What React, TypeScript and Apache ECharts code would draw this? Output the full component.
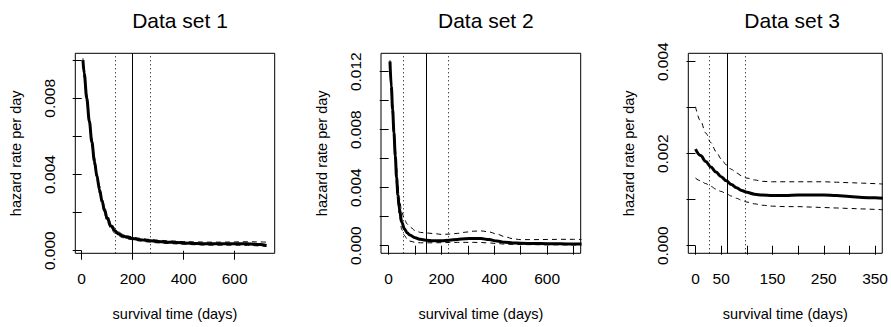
import React, { useEffect, useRef } from "react";
import * as echarts from "echarts";

const panelTitles = ["Data set 1", "Data set 2", "Data set 3"];
const xAxisTitle = "survival time (days)";
const yAxisTitle = "hazard rate per day";

// Data set 1
const days1 = [5, 10, 20, 30, 40, 50, 60, 70, 80, 90, 100, 115, 130, 145, 160, 180, 200, 230, 260, 300, 350, 400, 450, 500, 550, 600, 650, 700, 725];
const hazard1 = [0.01, 0.0093, 0.008, 0.0068, 0.0057, 0.0047, 0.0039, 0.0032, 0.0026, 0.0021, 0.0017, 0.0013, 0.00105, 0.00088, 0.00078, 0.0007, 0.00064, 0.00058, 0.00053, 0.00048, 0.00044, 0.00041, 0.00038, 0.00036, 0.00036, 0.00037, 0.00037, 0.00032, 0.00027];
const upper1 = [0.0101, 0.0095, 0.0082, 0.007, 0.0059, 0.0049, 0.0041, 0.0034, 0.0028, 0.0023, 0.0019, 0.00145, 0.00118, 0.00098, 0.00087, 0.00078, 0.00071, 0.00065, 0.0006, 0.00055, 0.00051, 0.00048, 0.00046, 0.00045, 0.00045, 0.00046, 0.00047, 0.00046, 0.00045];
const lower1 = [0.0098, 0.0091, 0.0078, 0.0066, 0.0055, 0.0045, 0.0037, 0.003, 0.0024, 0.0019, 0.0015, 0.00115, 0.00092, 0.00078, 0.00069, 0.00062, 0.00057, 0.00051, 0.00046, 0.00041, 0.00037, 0.00034, 0.00031, 0.00029, 0.00029, 0.00029, 0.00028, 0.00025, 0.00022];
const medianLine1 = [200];
const quartileLines1 = [131, 268];
const xTicks1 = [0, 200, 400, 600];
const xLabels1 = [0, 200, 400, 600];
const yTicks1 = [0, 0.002, 0.004, 0.006, 0.008, 0.01];
const yLabels1 = [0, 0.004, 0.008];

// Data set 2
const days2 = [5, 10, 15, 20, 25, 30, 35, 40, 50, 60, 70, 80, 100, 120, 140, 170, 200, 230, 260, 290, 320, 350, 380, 410, 440, 470, 500, 550, 600, 650, 700, 730];
const hazard2 = [0.0127, 0.011, 0.0094, 0.0078, 0.0062, 0.0047, 0.0035, 0.0026, 0.0016, 0.00115, 0.0009, 0.00074, 0.00055, 0.00044, 0.00038, 0.00035, 0.00035, 0.00038, 0.00043, 0.00048, 0.0005, 0.00049, 0.00042, 0.00032, 0.00024, 0.00019, 0.00017, 0.00015, 0.00014, 0.00013, 0.00012, 0.00011];
const upper2 = [0.0128, 0.0113, 0.0098, 0.0083, 0.0068, 0.0054, 0.0042, 0.0033, 0.0023, 0.0018, 0.0015, 0.0013, 0.00105, 0.00092, 0.00088, 0.00084, 0.00078, 0.0008, 0.00085, 0.00093, 0.001, 0.00102, 0.00095, 0.0008, 0.00062, 0.00048, 0.00042, 0.00042, 0.00043, 0.00044, 0.00044, 0.00043];
const lower2 = [0.0125, 0.0106, 0.0089, 0.0073, 0.0057, 0.0042, 0.003, 0.0021, 0.0011, 0.0007, 0.00045, 0.00032, 0.00023, 0.0002, 0.0002, 0.0002, 0.00021, 0.00022, 0.00023, 0.00023, 0.00023, 0.00022, 0.00019, 0.00015, 0.00011, 0.00009, 0.00008, 0.00007, 0.00006, 0.00006, 0.00005, 0.00005];
const medianLine2 = [141];
const quartileLines2 = [57, 227];
const xTicks2 = [0, 100, 200, 300, 400, 500, 600, 700];
const xLabels2 = [0, 200, 400, 600];
const yTicks2 = [0, 0.002, 0.004, 0.006, 0.008, 0.01, 0.012];
const yLabels2 = [0, 0.004, 0.008, 0.012];

// Data set 3
const days3 = [0, 10, 20, 30, 40, 50, 60, 70, 80, 90, 100, 115, 130, 150, 175, 200, 225, 250, 275, 300, 325, 350, 365];
const hazard3 = [0.0021, 0.00196, 0.00183, 0.00171, 0.0016, 0.0015, 0.00141, 0.00133, 0.00126, 0.0012, 0.00116, 0.00112, 0.0011, 0.00109, 0.00109, 0.0011, 0.0011, 0.0011, 0.00109, 0.00107, 0.00105, 0.00104, 0.00103];
const upper3 = [0.00302, 0.00271, 0.00245, 0.00224, 0.00205, 0.00189, 0.00176, 0.00166, 0.00158, 0.00152, 0.00147, 0.00143, 0.0014, 0.00139, 0.00139, 0.00139, 0.00139, 0.00139, 0.00138, 0.00137, 0.00136, 0.00135, 0.00134];
const lower3 = [0.00147, 0.00141, 0.00135, 0.00129, 0.00123, 0.00118, 0.00113, 0.00108, 0.00103, 0.00099, 0.00095, 0.00091, 0.00088, 0.00086, 0.00085, 0.00085, 0.00084, 0.00083, 0.00082, 0.00081, 0.0008, 0.00079, 0.00078];
const medianLine3 = [61.6];
const quartileLines3 = [26.7, 96.5];
const xTicks3 = [0, 50, 100, 150, 200, 250, 300, 350];
const xLabels3 = [0, 50, 150, 250, 350];
const yTicks3 = [0, 0.001, 0.002, 0.003, 0.004];
const yLabels3 = [0, 0.002, 0.004];

const FONT = "'Liberation Sans', Arial, Helvetica, sans-serif";

const panels = [
  {
    title: panelTitles[0], days: days1, hazard: hazard1, upper: upper1, lower: lower1,
    median: medianLine1, quartiles: quartileLines1,
    xTicks: xTicks1, xLabels: xLabels1, yTicks: yTicks1, yLabels: yLabels1,
    left: 75.3, width: 199.4, xMin: -25, xMax: 757, yMin: -0.000136, yMax: 0.010362,
  },
  {
    title: panelTitles[1], days: days2, hazard: hazard2, upper: upper2, lower: lower2,
    median: medianLine2, quartiles: quartileLines2,
    xTicks: xTicks2, xLabels: xLabels2, yTicks: yTicks2, yLabels: yLabels2,
    left: 381, width: 199.7, xMin: -29, xMax: 727, yMin: -0.000524, yMax: 0.013269,
  },
  {
    title: panelTitles[2], days: days3, hazard: hazard3, upper: upper3, lower: lower3,
    median: medianLine3, quartiles: quartileLines3,
    xTicks: xTicks3, xLabels: xLabels3, yTicks: yTicks3, yLabels: yLabels3,
    left: 688.3, width: 197.7, xMin: -14, xMax: 364, yMin: -0.000165, yMax: 0.004183,
  },
];

const TOP = 53.3;
const HEIGHT = 200;

function buildOption() {
  const grid: any[] = [];
  const xAxis: any[] = [];
  const yAxis: any[] = [];
  const series: any[] = [];
  const title: any[] = [];

  panels.forEach((p, i) => {
    grid.push({
      left: p.left, top: TOP, width: p.width, height: HEIGHT,
      show: true, borderColor: "#000", borderWidth: 1, backgroundColor: "transparent",
    });
    title.push({
      text: p.title, left: p.left + p.width / 2, textAlign: "center", top: 5,
      textStyle: { fontFamily: FONT, fontSize: 21, fontWeight: "normal", color: "#000" },
    });
    xAxis.push({
      type: "value", gridIndex: i, min: p.xMin, max: p.xMax,
      splitLine: { show: false },
      axisLine: { show: false },
      axisTick: { show: true, length: 9, lineStyle: { color: "#000", width: 1 }, customValues: p.xTicks },
      axisLabel: {
        show: true, margin: 17, color: "#000", fontFamily: FONT, fontSize: 15.5,
        customValues: p.xLabels, formatter: (v: number) => String(Math.round(v)),
      },
      name: xAxisTitle, nameLocation: "middle", nameGap: 53,
      nameTextStyle: { fontFamily: FONT, fontSize: 14.5, color: "#000" },
    });
    yAxis.push({
      type: "value", gridIndex: i, min: p.yMin, max: p.yMax,
      splitLine: { show: false },
      axisLine: { show: false },
      axisTick: { show: true, length: 9, lineStyle: { color: "#000", width: 1 }, customValues: p.yTicks },
      axisLabel: {
        show: true, rotate: 90, margin: 18, color: "#000", fontFamily: FONT, fontSize: 15.5,
        customValues: p.yLabels, formatter: (v: number) => v.toFixed(3),
      },
      name: yAxisTitle, nameLocation: "middle", nameGap: 52, nameRotate: 90,
      nameTextStyle: { fontFamily: FONT, fontSize: 14.5, color: "#000" },
    });

    const pts = (ys: number[]) => p.days.map((d, k) => [d, ys[k]]);
    const common = {
      type: "line", xAxisIndex: i, yAxisIndex: i, showSymbol: false, symbol: "none",
      smooth: 0.35, smoothMonotone: "x", clip: true, silent: true,
    };
    series.push({
      ...common, name: `upper ${i + 1}`, data: pts(p.upper),
      lineStyle: { color: "#000", width: 1, type: [5, 4] },
    });
    series.push({
      ...common, name: `lower ${i + 1}`, data: pts(p.lower),
      lineStyle: { color: "#000", width: 1, type: [5, 4] },
    });
    series.push({
      ...common, name: `hazard ${i + 1}`, data: pts(p.hazard),
      lineStyle: { color: "#000", width: 3 },
      markLine: {
        silent: true, symbol: ["none", "none"], label: { show: false },
        data: [
          ...p.median.map((x) => ({ xAxis: x, lineStyle: { color: "#000", width: 1, type: "solid" } })),
          ...p.quartiles.map((x) => ({ xAxis: x, lineStyle: { color: "#000", width: 1, type: [1, 3] } })),
        ],
      },
    });
  });

  return {
    animation: false,
    backgroundColor: "#fff",
    title, grid, xAxis, yAxis, series,
  };
}

export default function App() {
  const ref = useRef<HTMLDivElement>(null);
  useEffect(() => {
    if (!ref.current) return;
    const chart = echarts.init(ref.current, undefined, { renderer: "svg" });
    chart.setOption(buildOption() as any);
    return () => chart.dispose();
  }, []);
  return (
    <div
      ref={ref}
      style={{ position: "absolute", left: 0, top: 0, width: 891, height: 327 }}
    />
  );
}
